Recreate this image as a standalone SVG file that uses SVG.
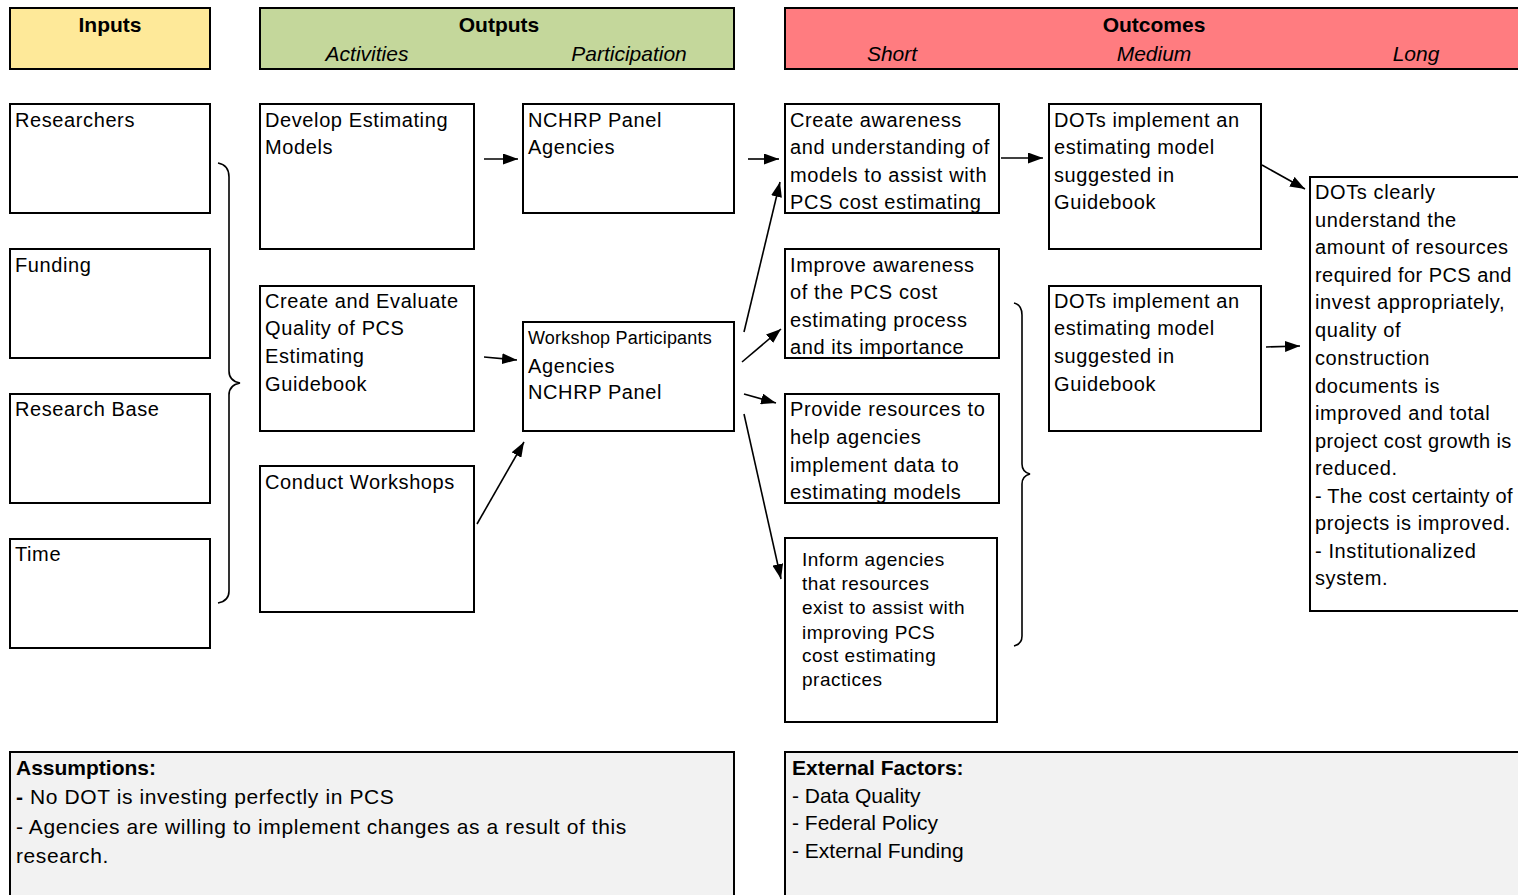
<svg xmlns="http://www.w3.org/2000/svg" width="1518" height="895" viewBox="0 0 1518 895">
<style>
.box{fill:#fff;stroke:#000;stroke-width:2}
.hdr{stroke:#000;stroke-width:2}
.t{font-family:"Liberation Sans",Arial,sans-serif;font-size:20px;letter-spacing:0.6px;fill:#000}
.s{font-size:19px;letter-spacing:0.5px}
.h{font-family:"Liberation Sans",Arial,sans-serif;font-size:21px;fill:#000;text-anchor:middle}
.b{font-weight:bold}
.i{font-style:italic}
.bt{font-family:"Liberation Sans",Arial,sans-serif;font-size:21px;fill:#000}
.sp{letter-spacing:0.6px}
.c{stroke:#000;stroke-width:1.6;fill:none}
</style>
<defs>
<marker id="ahl" viewBox="0 0 10 10" refX="10" refY="5" markerWidth="15" markerHeight="11" markerUnits="userSpaceOnUse" orient="auto" preserveAspectRatio="none">
<path d="M0,0 L10,5 L0,10 Z" fill="#000"/>
</marker>
</defs>
<rect width="1518" height="895" fill="#fff"/>

<g id="hdr-inputs">
<rect class="hdr" x="10" y="8" width="200" height="61" fill="#FEE999"/>
<text class="h b" x="110" y="32">Inputs</text>
</g>
<g id="hdr-outputs">
<rect class="hdr" x="260" y="8" width="474" height="61" fill="#C4D79B"/>
<text class="h b" x="499" y="32">Outputs</text>
<text class="h i" x="367" y="61">Activities</text>
<text class="h i" x="629" y="61">Participation</text>
</g>
<g id="hdr-outcomes">
<rect class="hdr" x="785" y="8" width="740" height="61" fill="#FF7C80"/>
<text class="h b" x="1154" y="32">Outcomes</text>
<text class="h i" x="892" y="61">Short</text>
<text class="h i" x="1154" y="61">Medium</text>
<text class="h i" x="1416" y="61">Long</text>
</g>

<g id="researchers"><rect class="box" x="10" y="104" width="200" height="109"/><text class="t" x="15" y="127">Researchers</text></g>
<g id="funding"><rect class="box" x="10" y="249" width="200" height="109"/><text class="t" x="15" y="272">Funding</text></g>
<g id="research-base"><rect class="box" x="10" y="394" width="200" height="109"/><text class="t" x="15" y="416">Research Base</text></g>
<g id="time"><rect class="box" x="10" y="539" width="200" height="109"/><text class="t" x="15" y="561">Time</text></g>

<g id="develop"><rect class="box" x="260" y="104" width="214" height="145"/>
<text class="t" x="265" y="127">Develop Estimating</text><text class="t" x="265" y="154">Models</text></g>
<g id="create-evaluate"><rect class="box" x="260" y="286" width="214" height="145"/>
<text class="t" x="265" y="308">Create and Evaluate</text><text class="t" x="265" y="335">Quality of PCS</text><text class="t" x="265" y="363">Estimating</text><text class="t" x="265" y="391">Guidebook</text></g>
<g id="workshops"><rect class="box" x="260" y="466" width="214" height="146"/>
<text class="t" x="265" y="489">Conduct Workshops</text></g>

<g id="nchrp"><rect class="box" x="523" y="104" width="211" height="109"/>
<text class="t" x="528" y="127">NCHRP Panel</text><text class="t" x="528" y="154">Agencies</text></g>
<g id="participants"><rect class="box" x="523" y="322" width="211" height="109"/>
<text class="t" x="528" y="344" style="font-size:18px;letter-spacing:0.2px">Workshop Participants</text><text class="t" x="528" y="373">Agencies</text><text class="t" x="528" y="399">NCHRP Panel</text></g>

<g id="create-awareness"><rect class="box" x="785" y="104" width="214" height="109"/>
<text class="t" x="790" y="127">Create awareness</text><text class="t" x="790" y="154">and understanding of</text><text class="t" x="790" y="182">models to assist with</text><text class="t" x="790" y="209">PCS cost estimating</text></g>
<g id="improve-awareness"><rect class="box" x="785" y="249" width="214" height="109"/>
<text class="t" x="790" y="272">Improve awareness</text><text class="t" x="790" y="299">of the PCS cost</text><text class="t" x="790" y="327">estimating process</text><text class="t" x="790" y="354">and its importance</text></g>
<g id="provide-resources"><rect class="box" x="785" y="394" width="214" height="109"/>
<text class="t" x="790" y="416">Provide resources to</text><text class="t" x="790" y="444">help agencies</text><text class="t" x="790" y="472">implement data to</text><text class="t" x="790" y="499">estimating models</text></g>
<g id="inform-agencies"><rect class="box" x="785" y="538" width="212" height="184"/>
<text class="t s" x="802" y="566">Inform agencies</text><text class="t s" x="802" y="590">that resources</text><text class="t s" x="802" y="614">exist to assist with</text><text class="t s" x="802" y="639">improving PCS</text><text class="t s" x="802" y="662">cost estimating</text><text class="t s" x="802" y="686">practices</text></g>

<g id="dots-implement-1"><rect class="box" x="1049" y="104" width="212" height="145"/>
<text class="t" x="1054" y="127">DOTs implement an</text><text class="t" x="1054" y="154">estimating model</text><text class="t" x="1054" y="182">suggested in</text><text class="t" x="1054" y="209">Guidebook</text></g>
<g id="dots-implement-2"><rect class="box" x="1049" y="286" width="212" height="145"/>
<text class="t" x="1054" y="308">DOTs implement an</text><text class="t" x="1054" y="335">estimating model</text><text class="t" x="1054" y="363">suggested in</text><text class="t" x="1054" y="391">Guidebook</text></g>

<g id="dots-clearly"><rect class="box" x="1310" y="177" width="215" height="434"/>
<text class="t" x="1315" y="199">DOTs clearly</text>
<text class="t" x="1315" y="227">understand the</text>
<text class="t" x="1315" y="254">amount of resources</text>
<text class="t" x="1315" y="282" style="letter-spacing:0.45px">required for PCS and</text>
<text class="t" x="1315" y="309">invest appropriately,</text>
<text class="t" x="1315" y="337">quality of</text>
<text class="t" x="1315" y="365">construction</text>
<text class="t" x="1315" y="393">documents is</text>
<text class="t" x="1315" y="420">improved and total</text>
<text class="t" x="1315" y="448" style="letter-spacing:0.4px">project cost growth is</text>
<text class="t" x="1315" y="475">reduced.</text>
<text class="t" x="1315" y="503" style="letter-spacing:0.25px">- The cost certainty of</text>
<text class="t" x="1315" y="530">projects is improved.</text>
<text class="t" x="1315" y="558">- Institutionalized</text>
<text class="t" x="1315" y="585">system.</text></g>

<g id="assumptions"><rect x="10" y="752" width="724" height="150" fill="#F2F2F2" stroke="#000" stroke-width="2"/>
<text class="bt b" x="16" y="775">Assumptions:</text>
<text class="bt sp" x="16" y="804"><tspan font-weight="bold">-</tspan> No DOT is investing perfectly in PCS</text>
<text class="bt sp" x="16" y="834">- Agencies are willing to implement changes as a result of this</text>
<text class="bt sp" x="16" y="863">research.</text></g>
<g id="external-factors"><rect x="785" y="752" width="740" height="150" fill="#F2F2F2" stroke="#000" stroke-width="2"/>
<text class="bt b" x="792" y="775">External Factors:</text>
<text class="bt" x="792" y="803">- Data Quality</text>
<text class="bt" x="792" y="830">- Federal Policy</text>
<text class="bt" x="792" y="858">- External Funding</text></g>

<g id="connectors">
<path class="c" d="M218,163 Q229,165 229,177 L229,371 Q229,381 240,383 Q229,385 229,395 L229,591 Q229,601 218,603"/>
<path class="c" d="M1014,303 Q1022,305 1022,315 L1022,464 Q1022,472 1030,474 Q1022,476 1022,484 L1022,636 Q1022,644 1014,646"/>
<line class="c" x1="484" y1="159" x2="518" y2="159" marker-end="url(#ahl)"/>
<line class="c" x1="484" y1="357" x2="517" y2="360" marker-end="url(#ahl)"/>
<line class="c" x1="477" y1="524" x2="524" y2="442" marker-end="url(#ahl)"/>
<line class="c" x1="748" y1="159" x2="779" y2="159" marker-end="url(#ahl)"/>
<line class="c" x1="744" y1="332" x2="780" y2="182" marker-end="url(#ahl)"/>
<line class="c" x1="742" y1="362" x2="781" y2="329" marker-end="url(#ahl)"/>
<line class="c" x1="744" y1="394" x2="776" y2="403" marker-end="url(#ahl)"/>
<line class="c" x1="744" y1="414" x2="781" y2="579" marker-end="url(#ahl)"/>
<line class="c" x1="1001" y1="158" x2="1043" y2="158" marker-end="url(#ahl)"/>
<line class="c" x1="1262" y1="165" x2="1305" y2="189" marker-end="url(#ahl)"/>
<line class="c" x1="1266" y1="347" x2="1300" y2="346" marker-end="url(#ahl)"/>
</g>
</svg>
